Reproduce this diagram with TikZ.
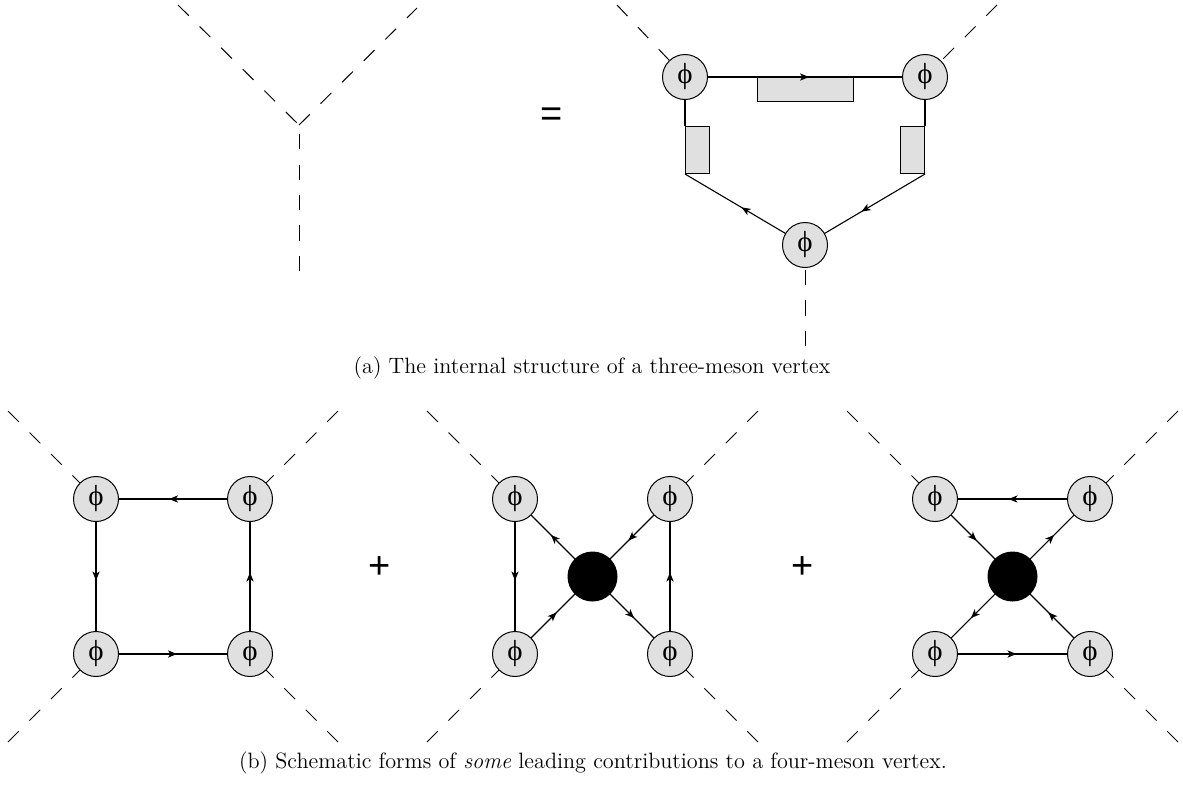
\documentclass[tikz,border=0pt]{standalone}
\usepackage{fontspec}
\newfontfamily\phifont{Liberation Serif}
\newfontfamily\signfont{Liberation Sans}
\usetikzlibrary{arrows.meta,decorations.markings,backgrounds}
\definecolor{phigray}{RGB}{224,224,224}
\tikzset{
  phinode/.style={circle,draw,line width=0.5pt,fill=phigray,minimum size=22.5pt,inner sep=0pt,font=\phifont\fontsize{14.5}{15}\selectfont},
  blob/.style={circle,fill=black,minimum size=25pt,inner sep=0pt},
  boxnode/.style={draw,line width=0.5pt,fill=phigray,inner sep=0pt},
  ext/.style={line width=0.5pt,dash pattern=on 7.6pt off 7.6pt},
  prop/.style={line width=0.55pt,postaction={decorate},decoration={markings,mark=at position 0.5 with {\arrow[xshift=2pt]{Stealth[length=4.5pt,width=3.6pt,inset=1.2pt]}}}},
  plainline/.style={line width=0.55pt},
  opsign/.style={font=\signfont\fontsize{19}{20}\selectfont,inner sep=0pt},
  captext/.style={font=\fontsize{11.1}{13}\selectfont,inner sep=0pt},
}
\begin{document}
\begin{tikzpicture}[x=0.5pt,y=-0.5pt]
\useasboundingbox (0,0) rectangle (1183,784);

% ---------- (a) left: bare vertex ----------
\coordinate (yv) at (299,125);
\coordinate (ya) at (178,5);
\coordinate (yb) at (417,8);
\coordinate (yc) at (299,271);
\draw[ext] (ya) -- (yv);
\draw[ext] (yv) -- (yb);
\draw[ext] (yc) -- (yv);

\node[opsign] (eq) at (552,117) {=};

% ---------- (a) right: internal structure ----------
\node[phinode] (pa) at (685,77) {ϕ};
\node[phinode] (pb) at (925,77) {ϕ};
\node[phinode] (pc) at (805,245) {ϕ};
\node[boxnode,minimum width=48pt,minimum height=12pt,anchor=north] (hbox) at (805,77) {};
\node[boxnode,minimum width=12pt,minimum height=23.5pt,anchor=north west] (lbox) at (685,126) {};
\node[boxnode,minimum width=12pt,minimum height=23.5pt,anchor=north east] (rbox) at (925,126) {};
\coordinate (pae) at (617,5);
\coordinate (pbe) at (997,5);
\coordinate (pce) at (805,346);
\draw[prop] (pa) -- (pb);
\begin{scope}[on background layer]
  \draw[ext] (pae) -- (pa.center);
  \draw[ext] (pbe) -- (pb.center);
  \draw[ext] (pce) -- (pc.center);
  \draw[plainline] (pa.center) -- (lbox.north west);
  \draw[plainline] (pb.center) -- (rbox.north east);
  \draw[prop] (pc.center) -- (lbox.south west);
  \draw[prop] (rbox.south east) -- (pc.center);
\end{scope}

\node[captext] (capa) at (592,368) {(a) The internal structure of a three-meson vertex};

% ---------- (b) diagram 1: box ----------
\node[phinode] (qa) at (96,499) {ϕ};
\node[phinode] (qb) at (250,499) {ϕ};
\node[phinode] (qc) at (96,654) {ϕ};
\node[phinode] (qd) at (250,654) {ϕ};
\coordinate (qae) at (8,411);
\coordinate (qbe) at (338,411);
\coordinate (qce) at (8,742);
\coordinate (qde) at (338,742);
\begin{scope}[on background layer]
  \draw[ext] (qae) -- (qa.center);
  \draw[ext] (qbe) -- (qb.center);
  \draw[ext] (qce) -- (qc.center);
  \draw[ext] (qde) -- (qd.center);
  \draw[prop] (qb.center) -- (qa.center);
  \draw[prop] (qa.center) -- (qc.center);
  \draw[prop] (qd.center) -- (qb.center);
  \draw[prop] (qc.center) -- (qd.center);
\end{scope}

\node[opsign] (plus1) at (380,568) {+};

% ---------- (b) diagram 2 ----------
\node[phinode] (ra) at (515,499) {ϕ};
\node[phinode] (rb) at (670,499) {ϕ};
\node[phinode] (rc) at (515,654) {ϕ};
\node[phinode] (rd) at (670,654) {ϕ};
\node[blob] (rx) at (592.5,576.5) {};
\coordinate (rae) at (427,411);
\coordinate (rbe) at (758,411);
\coordinate (rce) at (427,742);
\coordinate (rde) at (758,742);
\begin{scope}[on background layer]
  \draw[ext] (rae) -- (ra.center);
  \draw[ext] (rbe) -- (rb.center);
  \draw[ext] (rce) -- (rc.center);
  \draw[ext] (rde) -- (rd.center);
  \draw[prop] (ra.center) -- (rc.center);
  \draw[prop] (rd.center) -- (rb.center);
  \draw[prop] (rx.center) -- (ra.center);
  \draw[prop] (rb.center) -- (rx.center);
  \draw[prop] (rc.center) -- (rx.center);
  \draw[prop] (rx.center) -- (rd.center);
\end{scope}

\node[opsign] (plus2) at (803,568) {+};

% ---------- (b) diagram 3 ----------
\node[phinode] (sa) at (935,499) {ϕ};
\node[phinode] (sb) at (1090,499) {ϕ};
\node[phinode] (sc) at (935,654) {ϕ};
\node[phinode] (sd) at (1090,654) {ϕ};
\node[blob] (sx) at (1012.5,576.5) {};
\coordinate (sae) at (847,411);
\coordinate (sbe) at (1178,411);
\coordinate (sce) at (847,742);
\coordinate (sde) at (1178,742);
\begin{scope}[on background layer]
  \draw[ext] (sae) -- (sa.center);
  \draw[ext] (sbe) -- (sb.center);
  \draw[ext] (sce) -- (sc.center);
  \draw[ext] (sde) -- (sd.center);
  \draw[prop] (sb.center) -- (sa.center);
  \draw[prop] (sc.center) -- (sd.center);
  \draw[prop] (sa.center) -- (sx.center);
  \draw[prop] (sx.center) -- (sb.center);
  \draw[prop] (sx.center) -- (sc.center);
  \draw[prop] (sd.center) -- (sx.center);
\end{scope}

\node[captext] (capb) at (593,763) {(b) Schematic forms of \emph{some} leading contributions to a four-meson vertex.};
\end{tikzpicture}
\end{document}
